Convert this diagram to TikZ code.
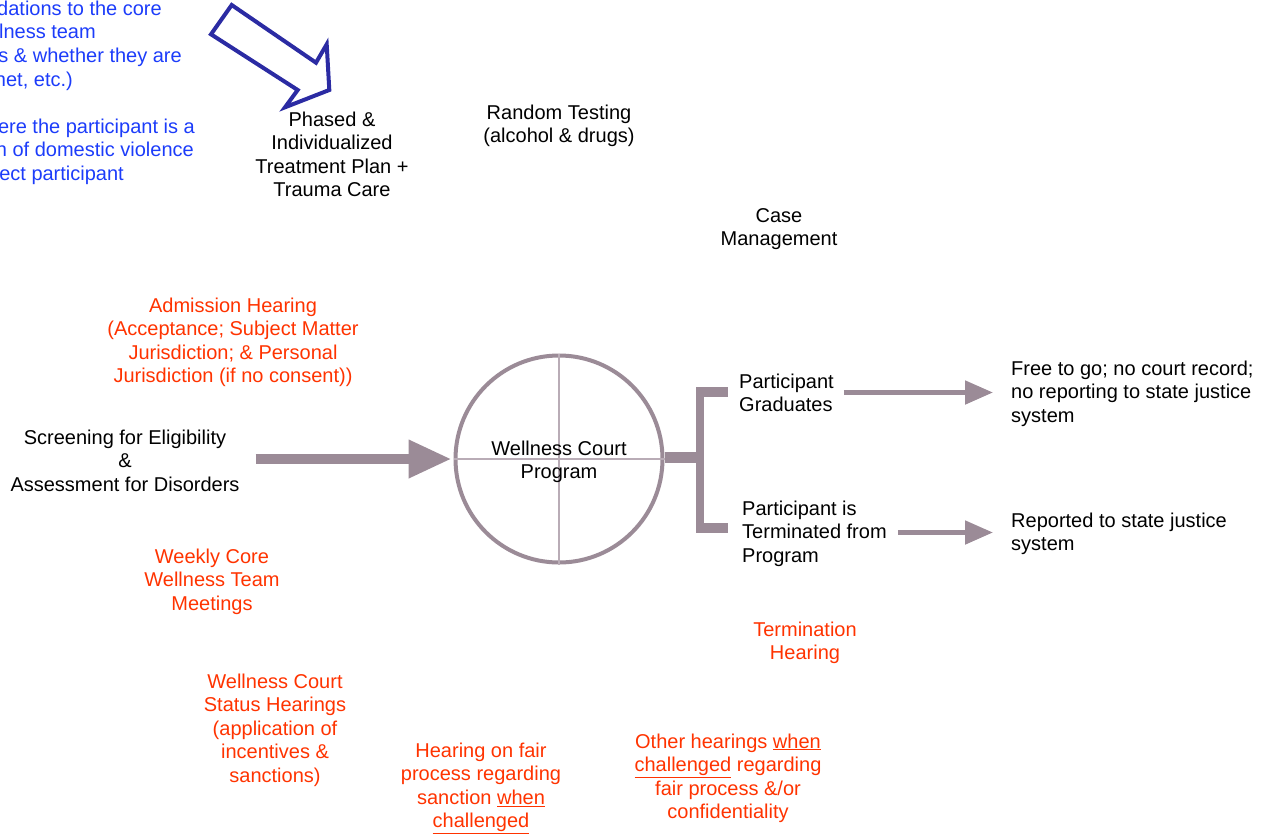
\documentclass[tikz,border=0pt]{standalone}
\usepackage{fontspec}
\setmainfont{Liberation Sans}
\usetikzlibrary{arrows.meta,calc}
\definecolor{mgray}{RGB}{155,139,151}
\definecolor{lgray}{RGB}{185,172,182}
\definecolor{myblue}{RGB}{28,60,250}
\definecolor{navy}{RGB}{43,43,163}
\definecolor{myred}{RGB}{255,51,0}
\newcommand\diagfont{\fontsize{20}{23.6}\selectfont}
\tikzset{
  txt/.style={inner sep=0pt, font=\diagfont, align=center, anchor=base, text=black},
  redtxt/.style={txt, text=myred},
  lefttxt/.style={txt, align=left, anchor=base west},
  bluetxt/.style={inner sep=0pt, font=\diagfont, text=myblue, anchor=base east},
  garrow/.style={draw=mgray, line width=#1},
  gfill/.style={fill=mgray, draw=none}
}
\begin{document}
\begin{tikzpicture}[x=1pt,y=-1pt]
\useasboundingbox (0,0) rectangle (1268,836);

% blue (cut-off) text
\node[bluetxt] (b1) at (162,15) {dations to the core};
\node[bluetxt] (b2) at (96,38) {lness team};
\node[bluetxt] (b3) at (182,62) {s \& whether they are};
\node[bluetxt] (b4) at (73,86) {net, etc.)};
\node[bluetxt] (b5) at (195,133) {ere the participant is a};
\node[bluetxt] (b6) at (194,156) {n of domestic violence};
\node[bluetxt] (b7) at (124,180) {ect participant};

% blue outline block arrow
\draw[navy, line width=4pt, line join=miter]
  (231.7,5) -- (316,62.7) -- (326.7,44.3) -- (329.3,90) -- (285,107.3) -- (297.7,90) -- (211,34.3) -- cycle;

% black labels (coordinates = baseline of the last line)
\node[txt] (phased) at (332,196.8) {Phased \&\\Individualized\\Treatment Plan +\\Trauma Care};
\node[txt] (random) at (559,142.6) {Random Testing\\(alcohol \& drugs)};
\node[txt] (case) at (779,245.6) {Case\\Management};
\node[txt] (scr) at (125,491.2) {Screening for Eligibility\\\&\\Assessment for Disorders};

% red labels
\node[redtxt] (adm) at (233,382.8) {Admission Hearing\\(Acceptance; Subject Matter\\Jurisdiction; \& Personal\\Jurisdiction (if no consent))};
\node[redtxt] (weekly) at (212,610.2) {Weekly Core\\Wellness Team\\Meetings};
\node[redtxt] (status) at (275,782.4) {Wellness Court\\Status Hearings\\(application of\\incentives \&\\sanctions)};
\node[redtxt] (fair) at (481,827.8) {Hearing on fair\\process regarding\\sanction \underline{when}\\\underline{challenged}};
\node[redtxt] (other) at (728,818.8) {Other hearings \underline{when}\\\underline{challenged} regarding\\fair process \&/or\\confidentiality};
\node[redtxt] (term) at (805,659.6) {Termination\\Hearing};

% circle
\node[circle, draw=mgray, line width=4pt, minimum size=207pt, inner sep=0pt] (circ) at (559,459) {};
\draw[lgray, line width=2pt] (circ.north) -- (circ.south);
\draw[lgray, line width=2pt] (circ.west) -- (circ.east);
\node[txt] (wcp) at (559,478.6) {Wellness Court\\Program};

% big input arrow
\draw[garrow=10pt, -{Triangle[length=43pt,width=36pt]}, shorten <=16pt, shorten >=2pt]
  (scr.east |- circ.center) -- (circ.west);

% bracket
\fill[gfill] (circ.east |- 0,452) rectangle (700,463);
\fill[gfill] (696,387) rectangle (704,533);
\fill[gfill] (696,387) rectangle (728,397);
\fill[gfill] (696,523) rectangle (728,533);

% outcome labels
\node[lefttxt] (grad) at (739,411.6) {Participant\\Graduates};
\node[lefttxt] (termd) at (742,562.2) {Participant is\\Terminated from\\Program};
\node[lefttxt] (free) at (1011,422.2) {Free to go; no court record;\\no reporting to state justice\\system};
\node[lefttxt] (rep) at (1011,550.6) {Reported to state justice\\system};

\coordinate (yg) at (0,392.5);
\coordinate (yt) at (0,532.5);
\draw[garrow=5pt, -{Triangle[length=28pt,width=23pt]}]
  ($(grad.east |- yg)+(10,0)$) -- ($(free.west |- yg)+(-18,0)$);
\draw[garrow=5pt, -{Triangle[length=28pt,width=23pt]}]
  ($(termd.east |- yt)+(11,0)$) -- ($(rep.west |- yt)+(-18,0)$);
\end{tikzpicture}
\end{document}
